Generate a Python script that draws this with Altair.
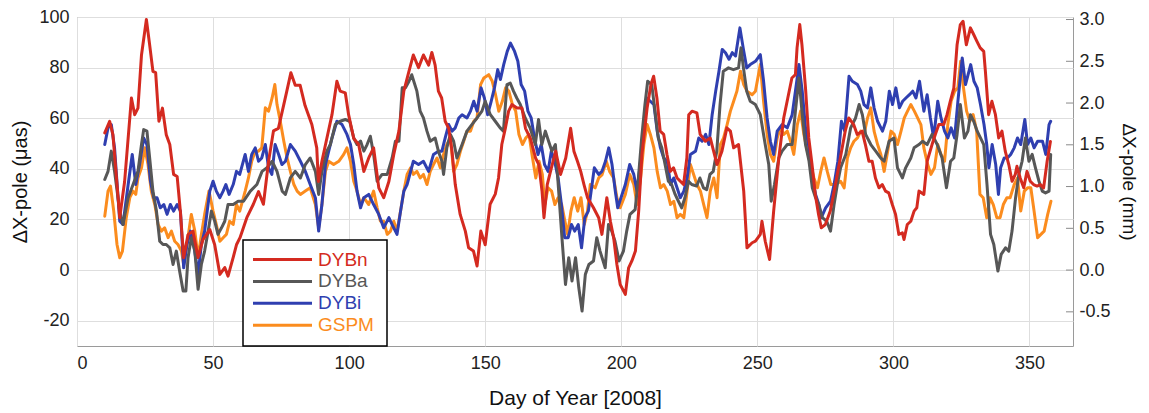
import altair as alt
import pandas as pd

# ---------------- data ----------------
SERIES = ["DYBn", "DYBa", "DYBi", "GSPM"]
COLORS = ["#d42a20", "#575757", "#2f3fb0", "#fb8c1e"]
X_TICKS = [0, 50, 100, 150, 200, 250, 300, 350]
Y_TICKS = [-20, 0, 20, 40, 60, 80, 100]
MM_TICKS = [-0.5, 0.0, 0.5, 1.0, 1.5, 2.0, 2.5, 3.0]
UAS_PER_MM = 33.0

DYBN = [(10.2,54.2),(12,58.8),(13.2,53.5),(15.7,20.7),(17.5,35),(20,68),(21.2,61.4),(22.4,64),(23.7,85),(25.5,99),
        (26.7,89),(27.9,78.5),(28.9,78),(30.1,58.8),(31.4,64),(32.8,53.5),(34.1,49.6),(35.5,37.8),(36.8,37),(38,23),
        (39.2,4.9),(40.8,14),(42.6,15.4),(44.5,5),(46.3,12),(48.8,16),(50.6,10),(52.5,-1.7),(54.3,1),(55.5,-2.4),
        (57.4,5),(58.6,10),(59.9,12.8),(62.4,20.7),(64.8,26),(66.7,31),(68.5,26),(70.4,43),(72.2,55),(74,56),
        (75.9,65),(77.1,70.7),(78.6,78),(80.2,73),(82,73),(83.8,65),(86.3,57.5),(88.1,48.3),(88.7,35),(90,43),
        (91.8,52),(93.7,61.4),(95.5,74.6),(96.7,70.7),(98.6,70),(99.8,61.4),(101.7,52),(103.5,49.6),(105.4,39),(107.2,44.3),
        (109,48.3),(110.9,32.5),(112.7,28.6),(114.6,35),(116.4,45.7),(118.3,55),(120.1,70.7),(122,78.6),(123.6,85),(125.5,80),
        (127.3,85),(129.2,81),(130.4,86),(131.6,81),(132.8,70.7),(134,68),(135.3,58.8),(136.6,56),(137.8,47),(139,33.8),
        (140.8,22),(142.7,15.4),(143.9,8.8),(145.7,7.5),(147,1.6),(148.4,15.4),(150,10),(151.8,26),(153.7,30),(154.9,36.4),
        (156.1,49.6),(157.4,56),(158.6,62.8),(159.8,65.4),(161.7,64),(163.5,64),(164.8,56),(166.6,52),(168.5,44.3),(169.7,41.7),
        (170.9,31),(171.6,20.7),(172.8,33.8),(174,39),(175.9,47),(177.7,37.8),(179.6,44.3),(181.4,56),(182.6,47),(183.9,43),
        (185.1,39),(186.3,33.8),(187.6,28.6),(189.8,24.6),(191.7,20.7),(192.9,14.1),(194.7,28.6),(196,19.3),(197.2,12.8),(198.4,2.2),
        (199.6,-5.7),(201.5,-9.6),(202.7,0.9),(203.9,3.6),(205.2,7.5),(206.4,23.3),(207.6,45.7),(209.5,64),(210.9,73.3),(211.9,76.6),
        (213.1,68),(214.3,54.9),(215.6,53.6),(216.8,45.7),(218,39),(219.2,40.4),(220.5,36.4),(221.7,35.1),(222.9,33.8),(224.1,44.3),
        (224.8,61.4),(226,62.8),(227.8,62.1),(229,53.6),(230.9,50.9),(232.7,52.2),(235.2,41.7),(237,47),(238.8,56.2),(240.1,54.9),
        (241.3,48.3),(243.1,49.6),(245,31.2),(246.2,8.8),(248.1,10.8),(249.3,11.4),(251.1,14.1),(251.7,19.3),(252.9,11.4),(254.5,4.2),
        (256,23.3),(257.9,44.3),(259.7,60.1),(261.2,68),(262.7,75.9),(264,77.2),(264.6,87.8),(265.6,97),(266.4,89),(267.7,72),
        (268.9,52.2),(270.1,41.7),(271.3,29.9),(272.5,22),(273.5,16.7),(275,18),(276.8,23.3),(278.7,33.8),(280.5,44.3),(282.3,54.9),
        (283.6,60.1),(285.4,57.5),(286.7,53.6),(288.5,54.9),(289.7,49.6),(291,43),(292.2,43),(293.4,36.4),(294.7,32.5),(295.9,33.8),
        (297.1,31.2),(298.3,30.5),(299.6,25.9),(300.8,22),(302,14.1),(303.3,14.7),(303.9,12.1),(305.1,18),(306.4,19.3),(307.6,23.3),
        (308.6,24.6),(309.4,31.2),(311.2,29.9),(312.4,43),(314.2,49.6),(315.4,53.6),(316.7,57.5),(318.5,57.5),(319.7,61.4),(320.9,66.7),
        (322.2,71.9),(323.4,89),(324.6,97),(325.6,98.3),(326.8,89),(328.3,95.7),(329.5,93.1),(330.7,90.4),(331.9,87.8),(333.2,86.4),
        (333.8,78.6),(335,61.4),(336.2,66.7),(337.5,61.4),(338.7,52.2),(339.9,54.9),(341.1,47),(342.4,41.7),(343.6,35.1),(344.8,37.8),
        (345.4,41),(346.6,36.4),(347.9,32.5),(349.1,39),(350.3,35.1),(351.5,33.8),(352.8,33.2),(354,33.8),(355.2,32.5),(356.5,43),
        (357.7,50.8)]

DYBA = [(10.2,35.8),(11.4,39),(12.6,47),(13.8,39),(15.7,23.3),(16.9,18),(18.8,28.6),(20.6,33.8),(22.4,39),(23.7,49.6),
        (24.5,55.5),(25.7,54.9),(26.7,44.3),(27.9,31.2),(29.2,23.3),(30.4,11.4),(31.6,10.1),(32.8,10.1),(34.1,8.8),(35.3,2.2),
        (36.5,7.5),(37.7,-0.4),(39,-8.3),(40,-8.3),(40.8,4.9),(42,12.8),(43.3,7.5),(44.5,-7.6),(45.7,2.2),(46.9,7.5),
        (48.2,15.4),(49.4,23.3),(50.6,19.3),(51.8,14.1),(53.1,16.7),(54.3,19.3),(55.5,25.9),(57.4,25.9),(59.2,27.2),(61.2,27.2),
        (63.7,31.2),(66.1,33.8),(68,39),(69.8,40.4),(71.7,43),(73.5,39),(75.4,31.2),(76.6,29.9),(78.4,36.4),(80.2,39),
        (82.1,36.4),(83.9,41.7),(85.7,44.3),(87.6,39),(88.8,29.9),(90,39),(91.8,47),(93.1,49.6),(94.9,57.5),(96.7,58.8),
        (98.6,59.5),(100.2,58.8),(101.7,52.2),(102.9,49.6),(104.2,51),(105.4,47),(106.6,49.6),(107.8,52.9),(109,45.7),(110.3,35.1),
        (112.1,37.8),(114,37.8),(115.8,44.3),(117,50.9),(118.3,50.9),(119.5,72),(120.7,72),(122,74.6),(123,77.2),(124.9,70.7),
        (126.1,62.8),(127.3,60.1),(128.6,54.9),(129.8,50.9),(131.6,52.2),(132.8,47),(134.1,43),(134.7,37.8),(135.9,48.3),(137.2,53.6),
        (138.4,50.9),(139.6,44.3),(141.5,49.6),(143.3,54.9),(145.1,57.5),(147,60.1),(148.8,62.8),(150,66.7),(151.9,61.4),(153.7,58.8),
        (155.5,56.2),(156.7,54.9),(158,73.3),(159.2,73.9),(160.4,70.7),(161.6,68),(162.9,65.4),(164.7,60.1),(166.5,56.2),(168.4,49.6),
        (169.6,59.5),(170.8,49.6),(172.1,54.9),(173.3,50.9),(174.5,47),(175.8,49.6),(177,31.2),(178.2,12.8),(179.5,-5.7),(180.7,4.9),
        (181.9,-4.3),(183.2,4.9),(184.4,-7),(185.6,-16.2),(186.8,-1.7),(188.1,2.2),(189.8,3.6),(191,12.8),(192.2,7.5),(194.1,0.9),
        (195.3,18),(196.5,15.4),(197.7,11.4),(199.2,3.6),(200.8,7.5),(202,15.4),(203.2,22),(205.1,23.9),(206.3,36.4),(207.5,52.2),
        (208.7,65.4),(209.7,74.6),(211.2,73.3),(212.4,62.8),(213.6,52.2),(214.9,48.3),(216.1,41.7),(217.3,35.1),(218.5,33.8),(219.8,29.9),
        (221,27.2),(222.2,24.6),(223.4,28.6),(224.7,35.1),(225.9,33.8),(227.7,33.2),(228.9,36.4),(230.2,32.5),(231.4,31.8),(232.6,37.8),
        (233.8,39),(235.1,47),(236.3,65.4),(237.5,78.6),(239.4,79.9),(241.2,79.2),(243.1,79.9),(244,87.8),(244.9,79.9),(246.1,70.7),
        (247.4,66.7),(249.3,65.4),(251.1,61.4),(252.9,49.6),(254.2,41.7),(255.1,27.2),(256.3,33.8),(257.9,44.3),(259.1,47),(261,49.6),
        (262.8,49.6),(264,62.8),(265.3,75.9),(266.5,61.4),(267.7,49.6),(269,43),(270.2,32.5),(271.4,28.6),(272.6,25.9),(273.9,20.7),
        (275.5,19.3),(276.9,15.4),(278.2,25.9),(279.4,33.8),(280.6,40.4),(282.5,45.7),(284.3,56.2),(286.1,60.1),(287.4,65.4),(288.6,61.4),
        (289.8,53.6),(291.7,49.6),(293.5,47),(295.3,44.3),(296.6,43),(298.4,50.9),(300.2,52.2),(301.5,40.4),(303.3,36.4),(304.5,40.4),
        (306.4,44.3),(307.6,48.3),(309.4,49.6),(310.7,50.9),(312.4,49.6),(314.2,53.6),(316.1,49.6),(317.9,44.3),(319.5,32.5),(321,43),
        (322.2,44.3),(323.4,53.6),(324.6,65.4),(326.1,52.2),(327.4,54.9),(328.3,61.4),(329.5,58.8),(330.8,54.9),(332,52.2),(333.2,49.6),
        (334.4,33.8),(335.7,14.1),(336.9,10.1),(338.4,-0.4),(339.6,6.2),(341.2,8.8),(342.4,7.5),(343.6,15.4),(344.9,28.6),(346.1,37.8),
        (347.3,43),(348.5,52.2),(349.8,43),(351,45.7),(352.2,40.4),(353.5,35.1),(354.7,31.2),(355.9,30.5),(357.2,31.2),(357.8,45.7)]

DYBI = [(10.2,49.6),(11.4,56.2),(12.6,57.5),(13.8,48.3),(15.7,19.3),(16.9,18),(18.8,33.8),(20.3,45.7),(21.6,33.8),(23,41.7),
        (24.5,52.2),(25.7,49.6),(27,35.1),(28.2,28.6),(29.4,28.6),(30.6,24.6),(31.9,25.9),(33.1,22),(34.3,25.9),(35.5,23.3),
        (36.8,25.9),(38,23.3),(39.2,0.9),(40.4,10.1),(41.7,15.4),(42.9,10.1),(44.5,-1.7),(45.7,10.1),(46.9,15.4),(48.8,31.2),
        (50,35.1),(51.2,31.2),(52.5,28.6),(53.7,31.2),(54.7,33.8),(55.9,29.9),(57.4,33.8),(58.6,39),(59.8,37.8),(61.8,45.7),
        (63,39),(64.2,45.7),(65.5,48.3),(66.7,43),(67.9,44.3),(69.2,49.6),(70.4,40.4),(71.6,37.8),(72.8,49.6),(74.1,45.7),
        (75.3,41.7),(76.6,43),(78.4,49.6),(80.2,47),(82.1,43),(83.9,39),(85.7,33.8),(87.6,28.6),(88.8,15.4),(90,25.9),
        (91.3,41.7),(92.5,47),(93.7,52.2),(95.5,58.8),(97.4,57.5),(99.2,53.6),(100.5,49.6),(101.7,41.7),(102.9,31.2),(104.2,24.6),
        (105.4,28.6),(107.2,29.9),(109,25.9),(110.9,22),(112.7,16.7),(114.6,20.7),(115.8,18),(117.6,14.1),(118.9,23.3),(120.1,31.2),
        (121.3,33.8),(122.6,39),(123.6,43),(125.5,41.7),(127.3,43),(129.2,39),(131,45.7),(132.8,47),(134.1,47),(135.3,52.2),
        (136.6,57.5),(137.8,54.9),(139,56.2),(140.3,60.1),(141.5,61.4),(143.3,60.1),(144.6,62.8),(145.8,66.7),(147,62.8),(148.5,72),
        (149.7,68),(150.9,61.4),(152.2,66.7),(153.4,72),(154.6,79.2),(155.6,75.3),(156.8,81.2),(158.1,86.4),(159.3,89.7),(160.8,86.4),
        (162,82.5),(163.2,73.3),(164.5,70.7),(165.7,62.8),(166.9,60.1),(168.1,52.2),(169.4,45.7),(170.6,49.6),(171.8,41.7),(173.1,39),
        (174.3,47),(175.5,43),(176.8,36.4),(178,25.9),(179.2,12.8),(180.5,12.8),(181.7,18),(182.9,15.4),(184.2,18),(185.4,8.8),
        (186.6,20.7),(187.9,23.3),(188.6,28.6),(190.1,40.4),(191.7,37.8),(192.9,39),(194.2,43),(195.4,48.3),(196.6,41.7),(197.8,31.2),
        (198.7,24.6),(199.9,28.6),(201.5,33.8),(203.1,41.7),(204.6,37.8),(205.8,31.2),(207.1,43),(208.3,57.5),(209.3,68),(210.7,66.7),
        (212,65.4),(213.2,54.9),(214.4,48.3),(215.6,44.3),(216.9,43),(218.1,33.8),(219.3,36.4),(220.5,32.5),(221.7,28.6),(223,31.2),
        (224.2,36.4),(225.4,45.7),(227.3,47),(228.5,52.2),(229.7,50.9),(231,53.6),(232.2,49.6),(233.4,61.4),(234.7,70.7),(235.9,78.6),
        (237.1,87.2),(238.3,85.9),(239.6,83.3),(240.8,85.9),(242,84.6),(243.6,95.7),(244.8,87.8),(246.1,79.9),(247.4,81.2),(249.3,82.5),
        (251.1,85.1),(252.3,74.6),(253.6,60.1),(254.8,50.9),(256,45.7),(257.3,54.9),(259.1,57.5),(261,56.2),(262.8,61.4),(264,70.7),
        (265.3,81.2),(266.5,70.7),(267.7,56.2),(269,48.3),(270.2,36.4),(271.4,29.9),(272.6,25.9),(273.5,20.7),(275.1,24.6),(276.9,27.2),
        (278.2,33.8),(279.6,43),(280.9,58.8),(282.1,54.9),(283.7,76.6),(284.9,74.6),(286.8,73.3),(288,70.7),(289.2,65.4),(290.5,64.1),
        (291.7,72),(292.9,64.1),(294.2,58.8),(296,54.9),(297.2,58.8),(298.5,70.7),(299.7,65.4),(300.9,72),(302.2,64.1),(303.4,66.7),
        (304.6,68),(305.9,69.3),(307.1,70.7),(308.3,68),(309.6,74.6),(311.2,62.8),(312.4,69.3),(313.6,60.1),(314.8,52.2),(316.3,66.7),
        (317.5,60.1),(318.8,54.9),(320,52.2),(321.2,56.2),(322.5,52.2),(323.7,66.7),(325.3,83.8),(326.5,73.3),(328.4,81.2),(329.6,74.6),
        (330.8,72),(332,65.4),(333.3,57.5),(334.3,49.6),(335.1,40.4),(336.3,49.6),(337.6,41.7),(338.6,29.9),(339.4,40.4),(340.7,44.3),
        (341.9,44.3),(343.1,45.7),(344.4,48.3),(345.6,52.2),(346.8,49.6),(348.3,59.5),(349.3,49.6),(350.5,52.2),(351.7,48.3),(353,50.9),
        (354.8,50.9),(356,45.7),(357.2,57.5),(357.8,58.8)]

GSPM = [(10.2,21.3),(11.4,31.2),(12.3,33.2),(13.5,23.3),(14.7,10.1),(15.7,4.9),(16.7,7.5),(18.1,20.7),(19.4,28.6),(20.6,31.2),
        (21.6,29.9),(22.4,36.4),(23.7,40.4),(24.9,48.3),(26.1,41.7),(27.3,31.2),(28.6,25.9),(29.8,18),(31,15.4),(32.2,16.7),
        (33.5,12.8),(34.7,15.4),(35.9,11.4),(37.1,10.1),(38.4,7.5),(39.2,2.2),(40.4,10.1),(42,22),(43.3,15.4),(44.5,4.9),
        (45.7,14.1),(46.9,22),(48.5,31.2),(50,23.3),(51.2,18),(52.5,11.4),(53.7,12.8),(54.9,14.1),(56.1,19.3),(57.4,18),
        (58.6,25.9),(59.8,23.3),(61.8,31.2),(63,36.4),(64.2,43),(65.5,47),(66.7,47),(67.9,48.3),(69.2,64.1),(70.4,62.8),
        (71.7,68),(72.7,73.3),(73.5,65.4),(74.7,58.8),(76,50.9),(77.2,44.3),(78.4,39),(79.7,33.8),(80.9,31.2),(82.1,29.9),
        (83.9,31.2),(85.7,32.5),(87.6,25.9),(88.8,16.7),(90,25.9),(91.3,39),(92.5,43),(94.3,41.7),(96.2,43),(98,45.7),
        (99.2,48.3),(100.5,43),(101.7,35.1),(102.9,31.2),(104.2,25.9),(105.4,28.6),(107.2,25.9),(109,31.2),(110.3,24.6),(111.5,19.3),
        (112.7,19.3),(114,14.1),(115.2,15.4),(116.4,19.3),(117.6,15.4),(118.9,23.3),(120.1,31.2),(121.3,37.8),(122.6,40.4),(123.6,37.8),
        (124.9,39),(126.1,36.4),(127.3,37.8),(128.6,33.8),(129.8,39),(131,41.7),(132.3,44.3),(133.5,40.4),(134.7,45.7),(135.9,49.6),
        (137.2,52.2),(138.4,39),(139.6,41.7),(140.9,47),(142.1,50.9),(143.3,54.9),(144.6,54.9),(145.8,58.8),(147,60.1),(148.3,73.3),
        (149.5,75.9),(151.3,77.2),(152.6,74.6),(153.8,69.3),(155,62.8),(156.3,66.7),(157.5,72),(158.7,70.7),(160,65.4),(161.2,62.8),
        (162.4,53.6),(163.7,49.6),(164.9,52.2),(166.1,53.6),(167.4,44.3),(168.6,36.4),(169.8,43),(171,37.8),(171.9,25.9),(173.1,32.5),
        (174.4,31.2),(175.6,25.9),(176.8,28.6),(178.1,25.9),(179.3,19.3),(180.3,14.1),(181.5,23.3),(182.7,28.6),(184,23.3),(185.2,28.6),
        (186.4,18),(187.6,23.3),(188.6,33.8),(190.4,32.5),(191.7,36.4),(192.9,37.6),(194.5,43),(195.7,39),(197.2,36.4),(198.4,28.6),
        (199.6,24.6),(201.5,29.9),(203.1,37.8),(204.6,33.8),(205.8,25.9),(207.1,36.4),(208.3,49.6),(209.5,57.5),(210.7,53.6),(212,48.3),
        (213.2,39),(214.4,32.5),(215.6,33.8),(216.9,31.2),(218.1,25.9),(219.3,27.2),(220.5,20.7),(221.7,22),(223,20.7),(224.2,31.2),
        (225.4,41.7),(226.6,37.8),(227.8,33.8),(229.1,31.2),(230.3,25.9),(231.5,20.7),(232.7,31.2),(234,36.4),(235.2,28.6),(236.4,49.6),
        (237.6,52.2),(238.9,57.5),(240.1,62.8),(241.3,66.7),(242.5,70.7),(243.8,78.6),(245,73.3),(246.2,70.7),(248.1,69.3),(249.3,70.7),
        (251.1,81.2),(252.3,66.7),(253.6,53.6),(254.8,45.7),(256,43),(257.3,52.2),(258.5,56.2),(259.7,53.6),(261,54.9),(262.2,50.9),
        (263.4,45.7),(264.7,57.5),(265.9,62.8),(267.1,53.6),(268.4,47),(269.6,41.7),(270.8,36.4),(272.1,32.5),(273.3,39),(274.5,44.3),
        (275.7,39),(277,33.8),(278.8,33.8),(280.6,35.1),(281.9,32.5),(283.1,44.3),(284.3,48.3),(285.5,50.9),(286.8,52.2),(288,54.9),
        (289.2,53.6),(290.5,60.1),(291.7,64.1),(292.9,54.9),(294.2,49.6),(295.4,45.7),(296.6,39),(297.9,47),(299.1,54.9),(300.3,53.6),
        (301.5,49.6),(302.8,54.9),(304,60.1),(305.2,62.8),(306.4,65.4),(307.7,62.8),(308.9,60.1),(310.1,57.5),(311.2,48.3),(312.6,41.7),
        (313.8,37.8),(315.1,40.4),(316.3,49.6),(317.5,45.7),(318.8,43),(320,57.5),(321.2,66.7),(322.5,70.7),(323.7,72),(324.7,82.5),
        (325.6,73.3),(326.9,62.8),(328.1,58.8),(329.3,61.4),(330.6,54.9),(331.8,29.9),(333,28.6),(334.3,20.7),(335.5,28.6),(336.7,25.9),
        (338,20.7),(339.2,20.7),(340.4,25.9),(341.7,28.6),(342.9,28.6),(344.4,33.8),(345.6,36.4),(346.8,23.3),(348.1,31.2),(349.3,32.5),
        (350.5,32.5),(351.7,23.3),(353,12.8),(354.2,14.1),(355.4,15.4),(356.7,22),(357.9,27.2)]

DATA = {"DYBn": DYBN, "DYBa": DYBA, "DYBi": DYBI, "GSPM": GSPM}
DRAW_ORDER = ["GSPM", "DYBi", "DYBa", "DYBn"]

# ---------------- chart ----------------
W, H = 996, 329
FONT = "Liberation Sans"
HYPHEN = "replace(datum.label, '\u2212', '-')"
color_scale = alt.Scale(domain=SERIES, range=COLORS)

x_enc = alt.X("day:Q", scale=alt.Scale(domain=[0, 366], nice=False),
              axis=alt.Axis(values=X_TICKS, title="Day of Year [2008]", grid=True,
                            ticks=False, domain=False, labelPadding=8, titlePadding=15,
                            labelFontSize=18, titleFontSize=21))
y_enc = alt.Y("value:Q", scale=alt.Scale(domain=[-30, 100], nice=False, zero=False),
              axis=alt.Axis(orient="left", values=Y_TICKS, title="ΔX-pole (μas)", grid=True,
                            ticks=False, domain=False, labelPadding=8, titlePadding=8,
                            labelFontSize=18, titleFontSize=20, labelExpr=HYPHEN))

line_layers = []
for s in DRAW_ORDER:
    df = pd.DataFrame(DATA[s], columns=["day", "value"])
    df["series"] = s
    line_layers.append(
        alt.Chart(df).mark_line(strokeWidth=3, strokeJoin="round", strokeCap="round").encode(
            x=x_enc, y=y_enc,
            color=alt.Color("series:N", scale=color_scale, legend=None),
        )
    )
lines = alt.layer(*line_layers)

# right-hand mm axis with inward ticks
mm_df = pd.DataFrame({"mm": MM_TICKS})
mm_axis = alt.Chart(mm_df).mark_rule(color="#8a8a8a", strokeWidth=1).encode(
    y=alt.Y("mm:Q", scale=alt.Scale(domain=[-30 / UAS_PER_MM, 100 / UAS_PER_MM], nice=False, zero=False),
            axis=alt.Axis(orient="right", values=MM_TICKS, format=".1f", title="ΔX-pole (mm)",
                          grid=False, ticks=False, domain=False, labelPadding=6, titlePadding=8,
                          labelFontSize=18, titleFontSize=19, labelExpr=HYPHEN)),
    x=alt.value(W - 7), x2=alt.value(W),
)

# legend (drawn as marks)
leg_df = pd.DataFrame({"series": SERIES, "idx": list(range(len(SERIES)))})
leg_box = alt.Chart(pd.DataFrame({"k": [0]})).mark_rect(
    fill="white", stroke="black", strokeWidth=1.5
).encode(x=alt.value(166), x2=alt.value(310), y=alt.value(223), y2=alt.value(329))
leg_base = alt.Chart(leg_df).transform_calculate(ly="242.5 + 21.9 * datum.idx")
leg_lines = leg_base.mark_rule(strokeWidth=3).encode(
    x=alt.value(176), x2=alt.value(235),
    y=alt.Y("ly:Q", scale=None, axis=None),
    color=alt.Color("series:N", scale=color_scale, legend=None),
)
leg_text = leg_base.mark_text(align="left", baseline="middle", fontSize=19, font=FONT).encode(
    x=alt.value(241),
    y=alt.Y("ly:Q", scale=None, axis=None),
    text="series:N",
    color=alt.Color("series:N", scale=color_scale, legend=None),
)

chart = alt.layer(lines, mm_axis, leg_box, leg_lines, leg_text).resolve_scale(
    y="independent"
).properties(
    width=W, height=H,
    autosize=alt.AutoSizeParams(type="none"),
    padding={"left": 77, "top": 17, "right": 76, "bottom": 67},
    background="white",
).configure_view(
    stroke="#9a9a9a", strokeWidth=1
).configure_axis(
    labelFont=FONT, titleFont=FONT, labelColor="#222222", titleColor="#111111",
    titleFontWeight="normal", gridColor="#dedede", gridWidth=1,
)

chart.save("out.html", embed_options={"renderer": "svg", "actions": False})
